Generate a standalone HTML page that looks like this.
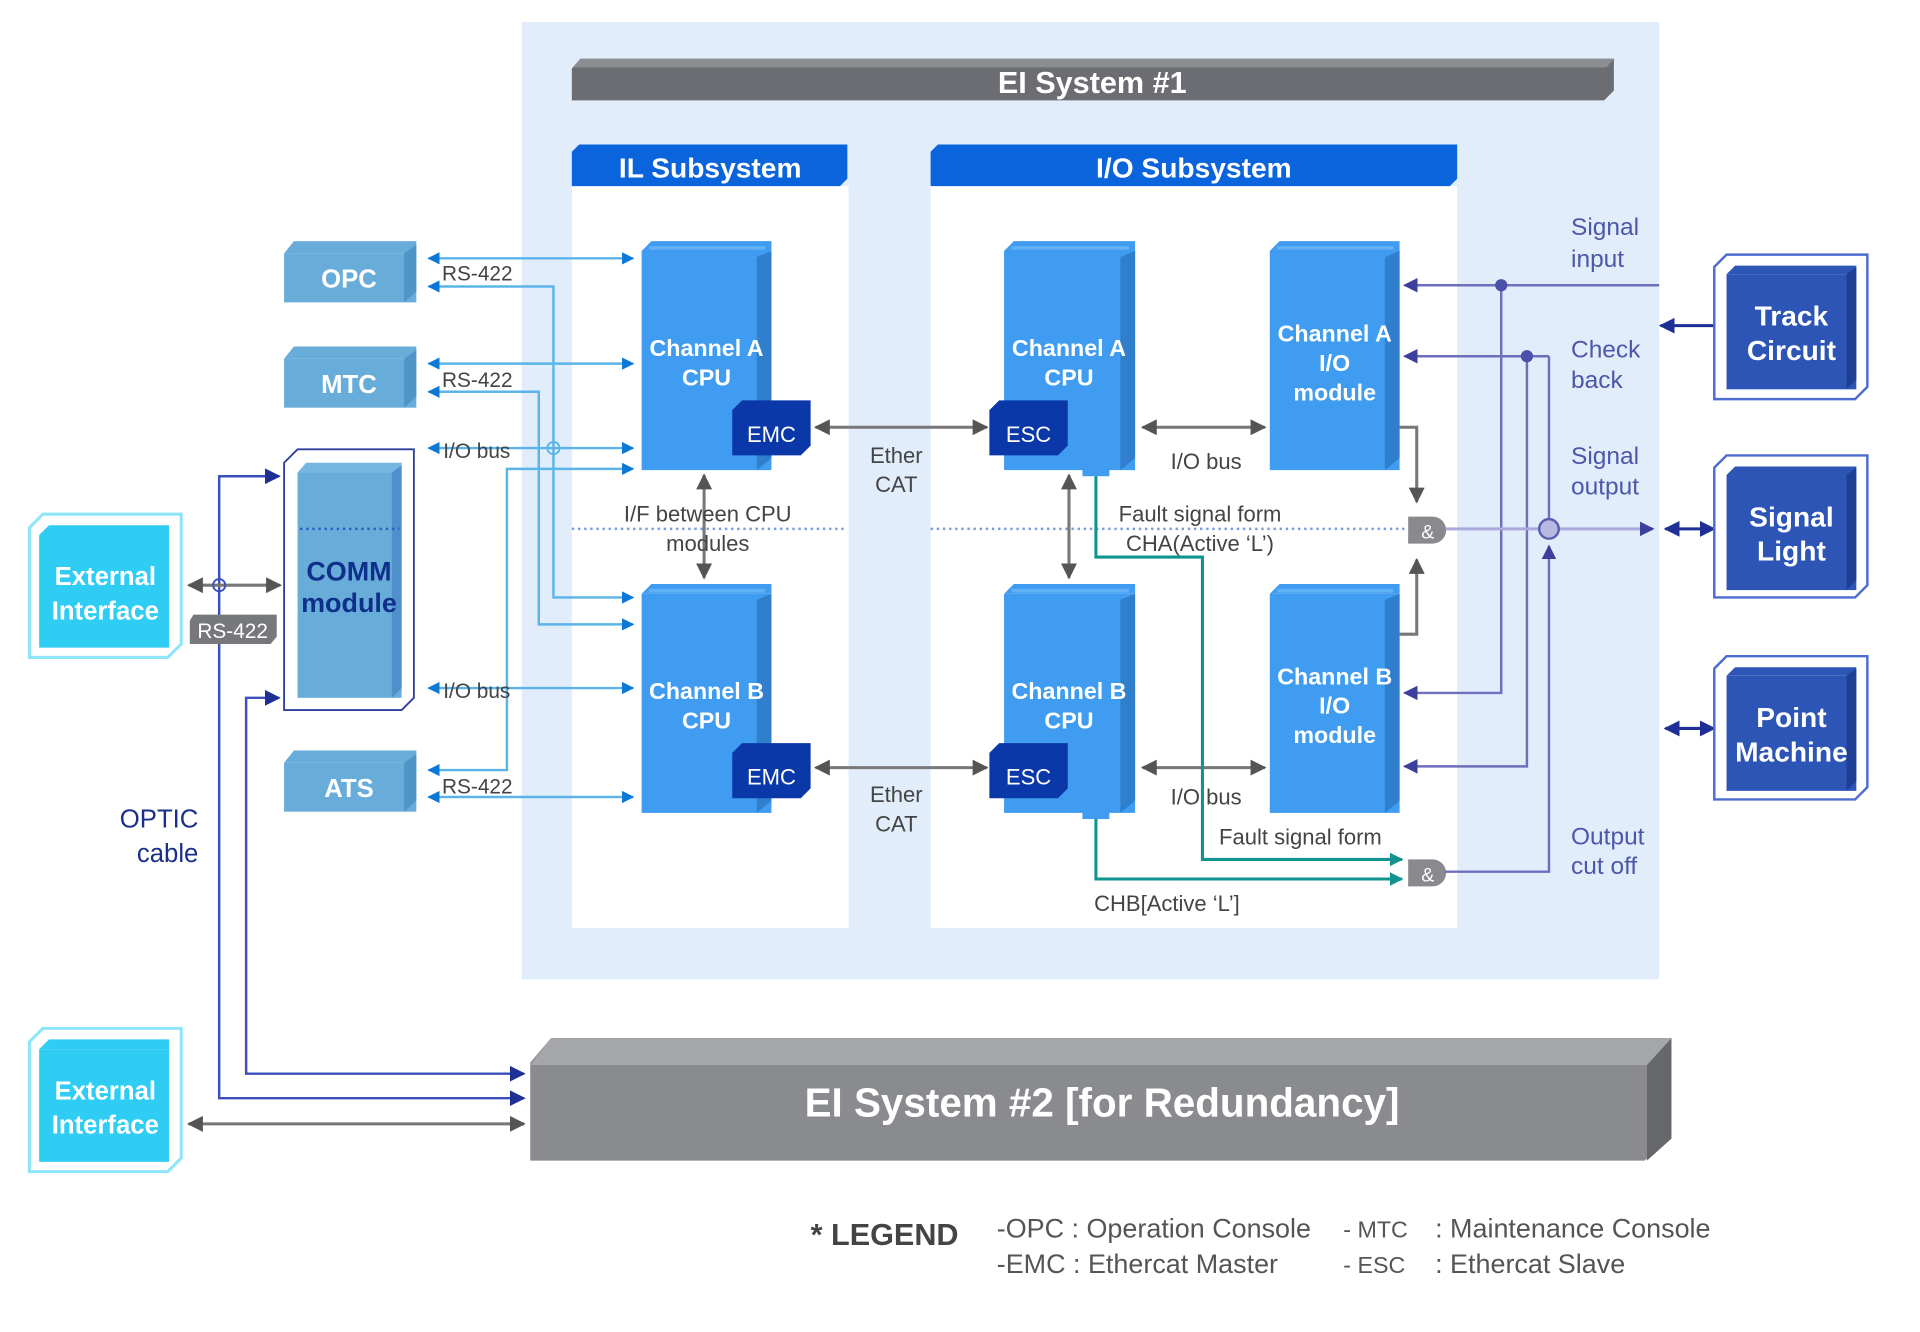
<!DOCTYPE html>
<html><head><meta charset="utf-8"><style>
html,body{margin:0;padding:0;background:#fff;width:1920px;height:1332px;overflow:hidden}
svg{display:block}
text{font-family:"Liberation Sans Narrow","Liberation Sans",sans-serif}
.w{fill:#fff;font-weight:bold}
.g{fill:#444}
.p{fill:#4b57a8}
</style></head><body>
<svg width="1920" height="1332" viewBox="0 0 1568 1088" preserveAspectRatio="none" xmlns="http://www.w3.org/2000/svg">
<defs>
<marker id="ab" viewBox="0 0 10 10" refX="9" refY="5" markerWidth="10" markerHeight="10" markerUnits="userSpaceOnUse" orient="auto-start-reverse"><path d="M0,0L10,5L0,10z" fill="#0b78d8"/></marker>
<marker id="ag" viewBox="0 0 10 10" refX="9" refY="5" markerWidth="13" markerHeight="13" markerUnits="userSpaceOnUse" orient="auto-start-reverse"><path d="M0,0L10,5L0,10z" fill="#555"/></marker>
<marker id="ap" viewBox="0 0 10 10" refX="9" refY="5" markerWidth="12" markerHeight="12" markerUnits="userSpaceOnUse" orient="auto-start-reverse"><path d="M0,0L10,5L0,10z" fill="#3c3f9c"/></marker>
<marker id="an" viewBox="0 0 10 10" refX="9" refY="5" markerWidth="13" markerHeight="13" markerUnits="userSpaceOnUse" orient="auto-start-reverse"><path d="M0,0L10,5L0,10z" fill="#1e2f96"/></marker>
<marker id="at" viewBox="0 0 10 10" refX="9" refY="5" markerWidth="11" markerHeight="11" markerUnits="userSpaceOnUse" orient="auto-start-reverse"><path d="M0,0L10,5L0,10z" fill="#0f9490"/></marker>
</defs>

<rect x="426" y="18" width="929" height="782" fill="#e2edfc"/>
<polygon points="474,48 1318,48 1318,74 1310,82 467,82 467,56" fill="#6b6d72"/>
<polygon points="474,48 1318,48 1312,55 468,55" fill="#8c8e92"/>
<text x="892" y="76" class="w" font-size="25" text-anchor="middle">EI System #1</text>

<rect x="467" y="152" width="226" height="606" fill="#fff"/>
<rect x="760" y="152" width="430" height="606" fill="#fff"/>
<polygon points="473,118 692,118 692,146 686,152 467,152 467,124" fill="#0a64dc"/>
<polygon points="766,118 1190,118 1190,146 1184,152 760,152 760,124" fill="#0a64dc"/>
<text x="580" y="145" class="w" font-size="23" text-anchor="middle">IL Subsystem</text>
<text x="975" y="145" class="w" font-size="23" text-anchor="middle">I/O Subsystem</text>

<line x1="467" y1="432" x2="692" y2="432" stroke="#7b9ee0" stroke-width="2" stroke-dasharray="2,3"/>
<line x1="760" y1="432" x2="1150" y2="432" stroke="#7b9ee0" stroke-width="2" stroke-dasharray="2,3"/>

<g fill="#3f9cf0">
<rect x="524" y="205" width="106" height="179"/><rect x="524" y="485" width="106" height="179"/>
<rect x="820" y="205" width="107" height="179"/><rect x="820" y="485" width="107" height="179"/>
<rect x="1037" y="205" width="106" height="179"/><rect x="1037" y="485" width="106" height="179"/>
<polygon points="532,197 630,197 630,205 524,205"/><polygon points="532,477 630,477 630,485 524,485"/>
<polygon points="828,197 927,197 927,205 820,205"/><polygon points="828,477 927,477 927,485 820,485"/>
<polygon points="1045,197 1143,197 1143,205 1037,205"/><polygon points="1045,477 1143,477 1143,485 1037,485"/>
</g>
<g fill="#2f7fcc">
<polygon points="618,210 630,205 630,374 618,384"/><polygon points="618,490 630,485 630,654 618,664"/>
<polygon points="915,210 927,205 927,374 915,384"/><polygon points="915,490 927,485 927,654 915,664"/>
<polygon points="1131,210 1143,205 1143,374 1131,384"/><polygon points="1131,490 1143,485 1143,654 1131,664"/>
</g>
<g fill="#5fb0f4">
<rect x="530" y="201" width="95" height="3"/><rect x="530" y="481" width="95" height="3"/>
<rect x="826" y="201" width="96" height="3"/><rect x="826" y="481" width="96" height="3"/>
<rect x="1043" y="201" width="95" height="3"/><rect x="1043" y="481" width="95" height="3"/>
</g>
<rect x="884" y="382" width="22" height="7" fill="#3f9cf0"/>
<rect x="884" y="662" width="22" height="7" fill="#3f9cf0"/>

<g font-size="19" text-anchor="middle">
<text x="577" y="291" class="w">Channel A</text><text x="577" y="315" class="w">CPU</text>
<text x="577" y="571" class="w">Channel B</text><text x="577" y="595" class="w">CPU</text>
<text x="873" y="291" class="w">Channel A</text><text x="873" y="315" class="w">CPU</text>
<text x="873" y="571" class="w">Channel B</text><text x="873" y="595" class="w">CPU</text>
<text x="1090" y="279" class="w">Channel A</text><text x="1090" y="303" class="w">I/O</text><text x="1090" y="327" class="w">module</text>
<text x="1090" y="559" class="w">Channel B</text><text x="1090" y="583" class="w">I/O</text><text x="1090" y="607" class="w">module</text>
</g>

<g fill="#0a38a8">
<polygon points="606,327 662,327 662,364 654,372 598,372 598,335"/>
<polygon points="606,607 662,607 662,644 654,652 598,652 598,615"/>
<polygon points="816,327 872,327 872,364 864,372 808,372 808,335"/>
<polygon points="816,607 872,607 872,644 864,652 808,652 808,615"/>
</g>
<g font-size="18" fill="#fff" text-anchor="middle">
<text x="630" y="361">EMC</text><text x="630" y="641">EMC</text>
<text x="840" y="361">ESC</text><text x="840" y="641">ESC</text>
</g>

<g stroke="#777" stroke-width="2.5" fill="none">
<line x1="666" y1="349" x2="806" y2="349" marker-start="url(#ag)" marker-end="url(#ag)"/>
<line x1="666" y1="627" x2="806" y2="627" marker-start="url(#ag)" marker-end="url(#ag)"/>
<line x1="933" y1="349" x2="1033" y2="349" marker-start="url(#ag)" marker-end="url(#ag)"/>
<line x1="933" y1="627" x2="1033" y2="627" marker-start="url(#ag)" marker-end="url(#ag)"/>
<line x1="575" y1="388" x2="575" y2="472" marker-start="url(#ag)" marker-end="url(#ag)"/>
<line x1="873" y1="388" x2="873" y2="472" marker-start="url(#ag)" marker-end="url(#ag)"/>
<polyline points="1143,349 1157,349 1157,410" marker-end="url(#ag)"/>
<polyline points="1143,518 1157,518 1157,457" marker-end="url(#ag)"/>
</g>
<g font-size="18" class="g" text-anchor="middle">
<text x="732" y="378">Ether</text><text x="732" y="402">CAT</text>
<text x="732" y="655">Ether</text><text x="732" y="679">CAT</text>
<text x="578" y="426">I/F  between CPU</text><text x="578" y="450">modules</text>
<text x="985" y="383">I/O bus</text><text x="985" y="657">I/O bus</text>
<text x="980" y="426">Fault signal form</text><text x="980" y="450">CHA(Active ‘L’)</text>
<text x="1062" y="690">Fault signal form</text>
<text x="953" y="744">CHB[Active ‘L’]</text>
</g>

<g stroke="#0f9490" stroke-width="2.5" fill="none">
<polyline points="895,389 895,455 982,455 982,702 1145,702" marker-end="url(#at)"/>
<polyline points="895,669 895,718 1145,718" marker-end="url(#at)"/>
</g>

<g fill="#8a8a8e">
<path d="M1150,422 H1170 A11,11 0 0 1 1170,444 H1150 Z"/>
<path d="M1150,702 H1170 A11,11 0 0 1 1170,724 H1150 Z"/>
</g>
<text x="1166" y="440" font-size="16" fill="#fff" text-anchor="middle">&amp;</text>
<text x="1166" y="720" font-size="16" fill="#fff" text-anchor="middle">&amp;</text>

<g stroke="#6d6fbd" stroke-width="2" fill="none">
<line x1="1355" y1="233" x2="1147" y2="233" marker-end="url(#ap)"/>
<polyline points="1226,233 1226,566 1147,566" marker-end="url(#ap)"/>
<polyline points="1265,291 1147,291" marker-end="url(#ap)"/>
<polyline points="1247,291 1247,626 1147,626" marker-end="url(#ap)"/>
<line x1="1265" y1="291" x2="1265" y2="424"/>
<polyline points="1180,712 1265,712 1265,446" marker-end="url(#ap)"/>
</g>
<line x1="1181" y1="432" x2="1350" y2="432" stroke="#a9a9dc" stroke-width="2.5" marker-end="url(#ap)"/>
<circle cx="1226" cy="233" r="5" fill="#4b50a8"/>
<circle cx="1247" cy="291" r="5" fill="#4b50a8"/>
<circle cx="1265" cy="432" r="8" fill="#b8b8e0" stroke="#5b5fb0" stroke-width="2"/>
<g stroke="#1e2f96" stroke-width="2.5">
<line x1="1360" y1="432" x2="1400" y2="432" marker-start="url(#an)" marker-end="url(#an)"/>
<line x1="1360" y1="595" x2="1400" y2="595" marker-start="url(#an)" marker-end="url(#an)"/>
<line x1="1400" y1="266" x2="1356" y2="266" marker-end="url(#an)"/>
</g>
<g font-size="20" class="p">
<text x="1283" y="192">Signal</text><text x="1283" y="218">input</text>
<text x="1283" y="292">Check</text><text x="1283" y="317">back</text>
<text x="1283" y="379">Signal</text><text x="1283" y="404">output</text>
<text x="1283" y="690">Output</text><text x="1283" y="714">cut off</text>
</g>

<g fill="#fff" stroke="#4d6cd0" stroke-width="2">
<polygon points="1410,208 1525,208 1525,316 1515,326 1400,326 1400,218"/>
<polygon points="1410,372 1525,372 1525,478 1515,488 1400,488 1400,382"/>
<polygon points="1410,536 1525,536 1525,643 1515,653 1400,653 1400,546"/>
</g>
<g fill="#2d55b5">
<rect x="1410" y="224" width="106" height="94"/><polygon points="1417,217 1516,217 1516,224 1410,224"/>
<rect x="1410" y="388" width="106" height="94"/><polygon points="1417,381 1516,381 1516,388 1410,388"/>
<rect x="1410" y="552" width="106" height="94"/><polygon points="1417,545 1516,545 1516,552 1410,552"/>
</g>
<g fill="#1f3f95">
<polygon points="1508,224 1516,218 1516,310 1508,318"/>
<polygon points="1508,388 1516,382 1516,474 1508,482"/>
<polygon points="1508,552 1516,546 1516,638 1508,646"/>
</g>
<g font-size="23" text-anchor="middle">
<text x="1463" y="266" class="w">Track</text><text x="1463" y="294" class="w">Circuit</text>
<text x="1463" y="430" class="w">Signal</text><text x="1463" y="458" class="w">Light</text>
<text x="1463" y="594" class="w">Point</text><text x="1463" y="622" class="w">Machine</text>
</g>

<g fill="#68add9">
<rect x="232" y="207" width="108" height="40"/><polygon points="240,197 340,197 340,207 232,207"/>
<rect x="232" y="293" width="108" height="40"/><polygon points="240,283 340,283 340,293 232,293"/>
<rect x="232" y="623" width="108" height="40"/><polygon points="240,613 340,613 340,623 232,623"/>
</g>
<g fill="#4f95c8"><polygon points="330,207 340,200 340,238 330,247"/><polygon points="330,293 340,286 340,324 330,333"/><polygon points="330,623 340,616 340,654 330,663"/></g>
<g font-size="21" text-anchor="middle">
<text x="285" y="235" class="w">OPC</text><text x="285" y="321" class="w">MTC</text><text x="285" y="651" class="w">ATS</text>
</g>

<g stroke="#5ab4e8" stroke-width="2" fill="none">
<line x1="350" y1="211" x2="517" y2="211" marker-start="url(#ab)" marker-end="url(#ab)"/>
<polyline points="350,234 452,234 452,488 517,488" marker-start="url(#ab)" marker-end="url(#ab)"/>
<line x1="350" y1="297" x2="517" y2="297" marker-start="url(#ab)" marker-end="url(#ab)"/>
<polyline points="350,320 440,320 440,510 517,510" marker-start="url(#ab)" marker-end="url(#ab)"/>
<line x1="350" y1="366" x2="517" y2="366" marker-start="url(#ab)" marker-end="url(#ab)"/>
<polyline points="517,383 414,383 414,629 350,629" marker-start="url(#ab)" marker-end="url(#ab)"/>
<line x1="350" y1="651" x2="517" y2="651" marker-start="url(#ab)" marker-end="url(#ab)"/>
<line x1="350" y1="562" x2="517" y2="562" marker-start="url(#ab)" marker-end="url(#ab)"/>
</g>
<circle cx="452" cy="366" r="5" fill="none" stroke="#5ab4e8" stroke-width="1.5"/>
<g font-size="17" class="g">
<text x="361" y="229">RS-422</text>
<text x="361" y="316">RS-422</text>
<text x="361" y="648">RS-422</text>
<text x="362" y="374">I/O bus</text>
<text x="362" y="570">I/O bus</text>
</g>

<polygon points="243,367 338,367 338,570 328,580 232,580 232,378" fill="#fff" stroke="#2f3f9a" stroke-width="1.5"/>
<rect x="243" y="386" width="85" height="184" fill="#68add9"/>
<polygon points="250,378 328,378 328,386 243,386" fill="#76b6e0"/>
<polygon points="320,386 328,380 328,562 320,570" fill="#4f90cc"/>
<line x1="245" y1="432" x2="326" y2="432" stroke="#2f5fc0" stroke-width="2" stroke-dasharray="2,3"/>
<text x="285" y="474" font-size="22" fill="#0e2f8a" font-weight="bold" text-anchor="middle">COMM</text>
<text x="285" y="500" font-size="22" fill="#0e2f8a" font-weight="bold" text-anchor="middle">module</text>

<g fill="#fff" stroke="#8ee4f8" stroke-width="2.5">
<polygon points="35,420 148,420 148,526 137,537 24,537 24,431"/>
<polygon points="35,840 148,840 148,946 137,957 24,957 24,851"/>
</g>
<g fill="#2fcdf4">
<rect x="32" y="437" width="106" height="92"/><polygon points="40,429 138,429 138,437 32,437"/>
<rect x="32" y="857" width="106" height="92"/><polygon points="40,849 138,849 138,857 32,857"/>
</g>
<g font-size="21" text-anchor="middle">
<text x="86" y="478" class="w">External</text><text x="86" y="506" class="w">Interface</text>
<text x="86" y="898" class="w">External</text><text x="86" y="926" class="w">Interface</text>
</g>

<g stroke="#3b4fbf" stroke-width="2" fill="none">
<polyline points="228,389 179,389 179,897 428,897" marker-start="url(#an)" marker-end="url(#an)"/>
<polyline points="228,570 201,570 201,877 428,877" marker-start="url(#an)" marker-end="url(#an)"/>
</g>
<g stroke="#777" stroke-width="2.5">
<line x1="154" y1="478" x2="229" y2="478" marker-start="url(#ag)" marker-end="url(#ag)"/>
<line x1="154" y1="918" x2="428" y2="918" marker-start="url(#ag)" marker-end="url(#ag)"/>
</g>
<circle cx="179" cy="478" r="5" fill="none" stroke="#3b4fbf" stroke-width="1.5"/>
<polygon points="158,502 226,502 226,520 221,526 155,526 155,507" fill="#77787c"/>
<text x="190" y="521" font-size="17" fill="#fff" text-anchor="middle">RS-422</text>
<text x="162" y="676" font-size="21" fill="#1a2f8a" text-anchor="end">OPTIC</text>
<text x="162" y="704" font-size="21" fill="#1a2f8a" text-anchor="end">cable</text>

<polygon points="450,848 1365,848 1365,930 1343,948 433,948 433,868" fill="#8a8b8f"/>
<polygon points="450,848 1365,848 1348,870 433,870" fill="#a5a6a9"/>
<polygon points="1345,870 1365,848 1365,930 1345,948" fill="#66676b"/>
<text x="900" y="912" class="w" font-size="33" text-anchor="middle">EI System #2 [for Redundancy]</text>

<text x="662" y="1017" font-size="25" fill="#444" font-weight="bold">* LEGEND</text>
<g font-size="22" fill="#555">
<text x="814" y="1011">-OPC : Operation Console</text>
<text x="814" y="1040">-EMC : Ethercat Master</text>
<text x="1097" y="1011" font-size="19">- MTC</text>
<text x="1097" y="1040" font-size="19">- ESC</text>
<text x="1172" y="1011">: Maintenance Console</text>
<text x="1172" y="1040">: Ethercat Slave</text>
</g>
</svg>
</body></html>
